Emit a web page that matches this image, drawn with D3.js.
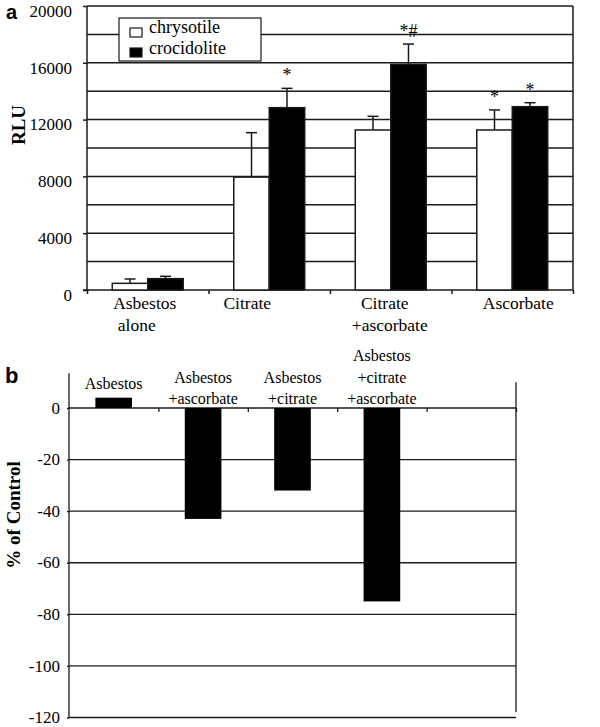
<!DOCTYPE html>
<html>
<head>
<meta charset="utf-8">
<script src="https://cdn.jsdelivr.net/npm/d3@7"></script>
<style>
  html, body { margin: 0; padding: 0; background: #fff; }
  svg { display: block; }
  svg text { font-family: 'Liberation Serif', 'Times New Roman', serif; }
  svg text.sans { font-family: 'Liberation Sans', Arial, sans-serif; }
</style>
</head>
<body>
<svg id="chart" width="600" height="727"></svg>
<script>
// ---------- Panel a data ----------
const categoriesA = [["Asbestos", "alone"], ["Citrate"], ["Citrate", "+ascorbate"], ["Ascorbate"]];
const seriesNames = ["chrysotile", "crocidolite"];
const chrysotile = [470, 7950, 11270, 11270];
const chrysotileErr = [305, 3130, 960, 1410];
const crocidolite = [800, 12840, 15890, 12910];
const crocidoliteErr = [165, 1360, 1430, 280];
const chrysotileMarks = ["", "", "", "*"];
const crocidoliteMarks = ["", "*", "*#", "*"];
const ticksA = [0, 4000, 8000, 12000, 16000, 20000];
const gridA = [2000, 4000, 6000, 8000, 10000, 12000, 14000, 16000, 18000, 20000];

// ---------- Panel b data ----------
const categoriesB = [["Asbestos"], ["Asbestos", "+ascorbate"], ["Asbestos", "+citrate"], ["Asbestos", "+citrate", "+ascorbate"], []];
const valuesB = [4, -43, -32, -75];
const ticksB = [0, -20, -40, -60, -80, -100, -120];

const svg = d3.select("#chart");
const ink = "#1a1a1a";

// ================= PANEL A =================
const A = { left: 87, right: 573, top: 6, bottom: 290 };
const xA = d3.scaleBand().domain(d3.range(categoriesA.length)).range([A.left, A.right]);
const yA = d3.scaleLinear().domain([0, 20000]).range([A.bottom, A.top]);
const barWA = xA.bandwidth() * 0.292;

const gA = svg.append("g");

// gridlines
gA.selectAll("line.grid").data(gridA).join("line")
  .attr("x1", A.left).attr("x2", A.right)
  .attr("y1", d => yA(d)).attr("y2", d => yA(d))
  .attr("stroke", ink).attr("stroke-width", 1.5);

// right border
gA.append("line").attr("x1", A.right).attr("x2", A.right)
  .attr("y1", yA(20000)).attr("y2", yA(0)).attr("stroke", ink).attr("stroke-width", 1.5);

// y axis
const axA = gA.append("g").attr("transform", `translate(${A.left},0)`)
  .call(d3.axisLeft(yA).tickValues(ticksA).tickSize(4).tickPadding(11).tickFormat(d => String(d)))
  .attr("font-size", 17);
axA.select(".domain").attr("stroke", ink).attr("stroke-width", 1.5).attr("d", `M0,${A.bottom}V${A.top}`);
axA.selectAll(".tick line").attr("stroke", ink).attr("stroke-width", 1.5);
axA.selectAll(".tick text").attr("fill", "#000").attr("dy", "0.6em");

// x axis
const axXA = gA.append("g").attr("transform", `translate(0,${A.bottom})`)
  .call(d3.axisBottom(d3.scaleLinear().domain([0, categoriesA.length]).range([A.left, A.right]))
    .tickValues(d3.range(categoriesA.length + 1)).tickSize(4).tickFormat(""));
axXA.select(".domain").attr("stroke", ink).attr("stroke-width", 1.5).attr("d", `M${A.left - 4},0H${A.right}`);
axXA.selectAll(".tick line").attr("stroke", ink).attr("stroke-width", 1.5);

// error bars + bars
const seriesA = [
  { name: seriesNames[0], vals: chrysotile, errs: chrysotileErr, marks: chrysotileMarks, fill: "#fff", off: -1 },
  { name: seriesNames[1], vals: crocidolite, errs: crocidoliteErr, marks: crocidoliteMarks, fill: "#000", off: 0 }
];
const capW = 11;
seriesA.forEach(s => {
  const g = gA.append("g");
  s.vals.forEach((v, i) => {
    const x0 = xA(i) + xA.bandwidth() / 2 + s.off * barWA;
    const cx = x0 + barWA / 2;
    const top = yA(v + s.errs[i]);
    g.append("line").attr("x1", cx).attr("x2", cx).attr("y1", yA(v)).attr("y2", top)
      .attr("stroke", ink).attr("stroke-width", 1.5);
    g.append("line").attr("x1", cx - capW / 2).attr("x2", cx + capW / 2).attr("y1", top).attr("y2", top)
      .attr("stroke", ink).attr("stroke-width", 1.5);
    g.append("rect").attr("x", x0).attr("y", yA(v)).attr("width", barWA).attr("height", yA(0) - yA(v))
      .attr("fill", s.fill).attr("stroke", ink).attr("stroke-width", 1.5);
    if (s.marks[i]) {
      g.append("text").attr("x", cx).attr("y", top - 7)
        .attr("text-anchor", "middle").attr("font-size", 18).attr("fill", "#000").text(s.marks[i]);
    }
  });
});

// category labels
const nudgeA = [-3, -22, -6, 6];
categoriesA.forEach((lines, i) => {
  const t = gA.append("text").attr("font-size", 17.5).attr("fill", "#000")
    .attr("text-anchor", "middle");
  lines.forEach((ln, j) => {
    t.append("tspan").attr("x", xA(i) + xA.bandwidth() / 2 + nudgeA[i] + (j > 0 && i === 0 ? -8 : 0) + (j > 0 && i === 2 ? 5 : 0))
      .attr("y", A.bottom + 19 + j * 22).text(ln);
  });
});

// legend
const lg = gA.append("g").attr("transform", "translate(119,18)");
lg.append("rect").attr("width", 142).attr("height", 43).attr("fill", "#fff").attr("stroke", ink).attr("stroke-width", 1.2);
seriesA.forEach((s, i) => {
  lg.append("rect").attr("x", 11).attr("y", 10 + i * 20).attr("width", 12).attr("height", 9)
    .attr("fill", s.fill).attr("stroke", ink).attr("stroke-width", 1.2);
  lg.append("text").attr("x", 30).attr("y", 15 + i * 21)
    .attr("font-size", 18).attr("fill", "#000").text(s.name);
});

// axis title + panel letter
svg.append("text").attr("font-weight", "bold").attr("font-size", 19)
  .attr("transform", "translate(18,125) rotate(-90)").attr("text-anchor", "middle")
  .attr("dominant-baseline", "central").text("RLU");
svg.append("text").attr("class", "sans").attr("x", 6).attr("y", 19)
  .attr("font-weight", "bold").attr("font-size", 20).text("a");

// ================= PANEL B =================
const B = { left: 69, right: 516, zero: 408, bottom: 717.5 };
const xB = d3.scaleBand().domain(d3.range(categoriesB.length)).range([B.left, B.right]);
const yB = d3.scaleLinear().domain([-120, 0]).range([B.bottom, B.zero]);
const barWB = xB.bandwidth() * 0.41;
const gB = svg.append("g");

// gridlines
gB.selectAll("line.grid").data(ticksB).join("line")
  .attr("x1", B.left).attr("x2", B.right)
  .attr("y1", d => yB(d)).attr("y2", d => yB(d))
  .attr("stroke", ink).attr("stroke-width", 1.3);

// right border
gB.append("line").attr("x1", B.right).attr("x2", B.right)
  .attr("y1", yB(10)).attr("y2", yB(-118)).attr("stroke", ink).attr("stroke-width", 1.3);

// y axis
const axB = gB.append("g").attr("transform", `translate(${B.left},0)`)
  .call(d3.axisLeft(yB).tickValues(ticksB).tickSize(2).tickPadding(7).tickFormat(d => String(d)))
  .attr("font-size", 17);
axB.select(".domain").attr("stroke", ink).attr("stroke-width", 1.3).attr("d", `M0,${yB(-120)}V${yB(13.5)}`);
axB.selectAll(".tick line").attr("stroke", ink).attr("stroke-width", 1.3);
axB.selectAll(".tick text").attr("fill", "#000").attr("dy", "0.3em");

// category ticks on zero line
const axXB = gB.append("g").attr("transform", `translate(0,${B.zero})`)
  .call(d3.axisBottom(d3.scaleLinear().domain([0, categoriesB.length]).range([B.left, B.right]))
    .tickValues(d3.range(1, categoriesB.length + 1)).tickSize(4).tickFormat(""));
axXB.select(".domain").remove();
axXB.selectAll(".tick line").attr("stroke", ink).attr("stroke-width", 1.3);

// bars
gB.selectAll("rect.bar").data(valuesB).join("rect")
  .attr("x", (d, i) => xB(i) + xB.bandwidth() / 2 - barWB / 2)
  .attr("y", d => yB(Math.max(0, d)))
  .attr("width", barWB)
  .attr("height", d => Math.abs(yB(d) - yB(0)))
  .attr("fill", "#000");

// labels
categoriesB.forEach((lines, i) => {
  if (!lines.length) return;
  const v = valuesB[i];
  const base = v > 0 ? yB(v) - 9 : yB(0) - 4;
  const t = gB.append("text").attr("font-size", 16).attr("fill", "#000")
    .attr("text-anchor", "middle");
  lines.forEach((ln, j) => {
    t.append("tspan").attr("x", xB(i) + xB.bandwidth() / 2)
      .attr("y", base - (lines.length - 1 - j) * 21.5).text(ln);
  });
});

svg.append("text").attr("font-weight", "bold").attr("font-size", 19)
  .attr("transform", "translate(13,515) rotate(-90)").attr("text-anchor", "middle")
  .attr("dominant-baseline", "central").text("% of Control");
svg.append("text").attr("class", "sans").attr("x", 5).attr("y", 383)
  .attr("font-weight", "bold").attr("font-size", 22).text("b");
</script>
</body>
</html>
